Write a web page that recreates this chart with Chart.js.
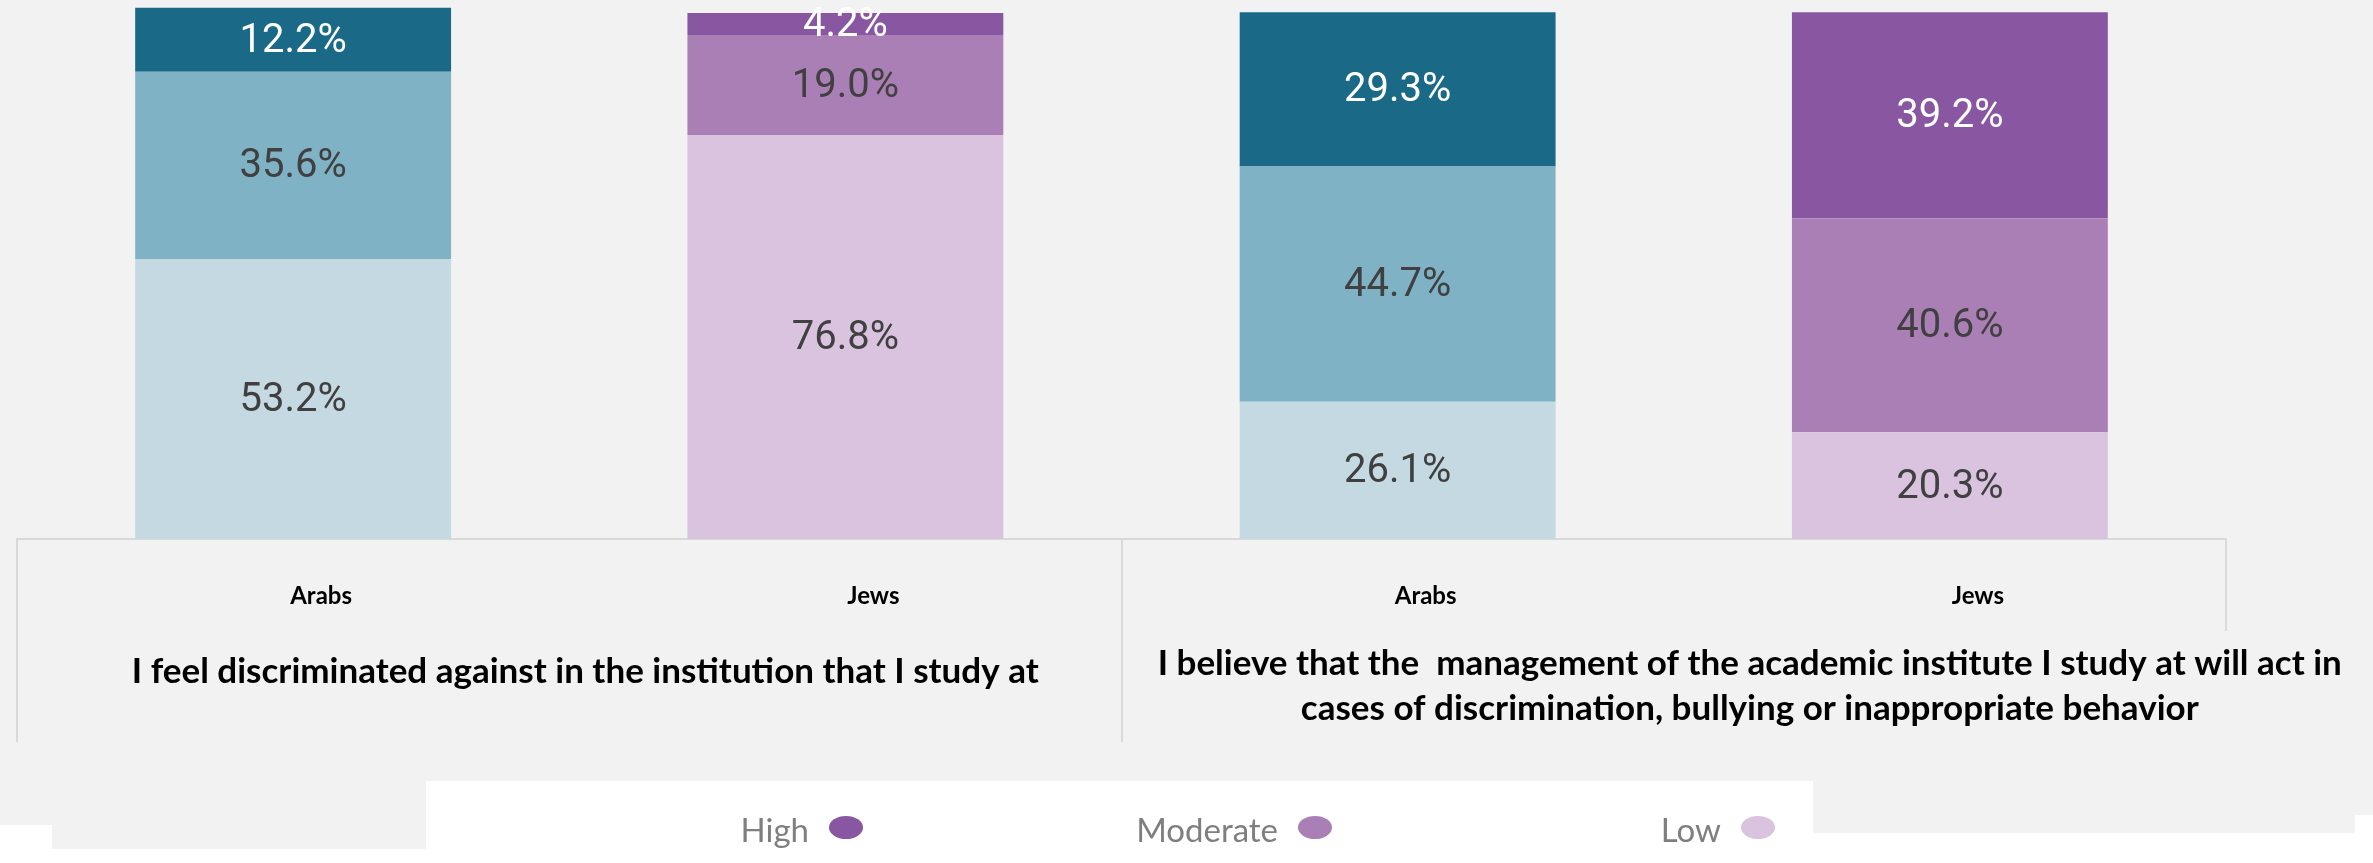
<!DOCTYPE html>
<html><head><meta charset="utf-8">
<script src="https://cdn.jsdelivr.net/npm/chart.js@4.4.1/dist/chart.umd.min.js"></script>
<style>html,body{margin:0;padding:0;background:#fff;overflow:hidden}#wrap{width:2373px;height:863px;position:relative}</style>
</head><body><div id="wrap"><canvas id="c"></canvas></div>
<script>
// ---- data ----
const categories = ['Arabs', 'Jews', 'Arabs', 'Jews'];
const seriesNames = ['Low', 'Moderate', 'High'];
const lowValues = [53.2, 76.8, 26.1, 20.3];
const moderateValues = [35.6, 19.0, 44.7, 40.6];
const highValues = [12.2, 4.2, 29.3, 39.2];
const groupLabels = [
  ['I feel discriminated against in the institution that I study at'],
  ['I believe that the  management of the academic institute I study at will act in',
   'cases of discrimination, bullying or inappropriate behavior']
];
const legendOrder = ['High', 'Moderate', 'Low'];

// ---- styles ----
const arabColors = { Low: '#c4d9e2', Moderate: '#7fb2c5', High: '#1a6987' };
const jewColors = { Low: '#d9c3df', Moderate: '#aa7fb6', High: '#8957a1' };
const labelColors = { Low: '#404040', Moderate: '#404040', High: '#ffffff' };
const BG = '#f2f2f2';
const LINE = '#d9d9d9';

const seriesValues = { Low: lowValues, Moderate: moderateValues, High: highValues };
const datasets = seriesNames.map(name => ({
  label: name,
  data: seriesValues[name],
  backgroundColor: categories.map(c => c === 'Arabs' ? arabColors[name] : jewColors[name]),
  borderWidth: 0,
  labelColor: labelColors[name],
  legendColor: jewColors[name],
  barPercentage: 0.572,
  categoryPercentage: 1.0
}));

const bgPlugin = {
  id: 'bgPlugin',
  beforeDraw(chart) {
    const ctx = chart.ctx;
    ctx.save();
    ctx.fillStyle = '#ffffff';
    ctx.fillRect(0, 0, chart.width, chart.height);
    ctx.fillStyle = BG;
    ctx.fillRect(0, 0, 2373, 815);
    ctx.fillRect(0, 815, 2355, 10);
    ctx.fillRect(52, 825, 2303, 8);
    ctx.fillRect(52, 833, 374, 16);
    ctx.fillStyle = '#ffffff';
    ctx.fillRect(426, 781, 1387, 82);
    ctx.restore();
  }
};

const segLabelPlugin = {
  id: 'segLabels',
  afterDatasetsDraw(chart) {
    const ctx = chart.ctx;
    ctx.save();
    ctx.font = '40px Roboto';
    ctx.textAlign = 'center';
    ctx.textBaseline = 'middle';
    chart.data.datasets.forEach((ds, i) => {
      const meta = chart.getDatasetMeta(i);
      meta.data.forEach((bar, j) => {
        const p = bar.getProps(['x', 'y', 'base'], true);
        ctx.fillStyle = ds.labelColor;
        ctx.fillText(ds.data[j].toFixed(1) + '%', p.x, (p.y + p.base) / 2 + 2);
      });
    });
    ctx.restore();
  }
};

const groupLabelPlugin = {
  id: 'groupLabels',
  afterDraw(chart, args, opts) {
    const sx = chart.scales.x;
    const ctx = chart.ctx;
    ctx.save();
    ctx.font = opts.font;
    ctx.textAlign = 'center';
    ctx.textBaseline = 'alphabetic';
    groupLabels.forEach((lines, g) => {
      const cx = (sx.getPixelForValue(2 * g) + sx.getPixelForValue(2 * g + 1)) / 2 + opts.shift[g];
      if (opts.mask[g]) {
        const w = Math.max(...lines.map(t => ctx.measureText(t).width));
        ctx.fillStyle = BG;
        ctx.fillRect(cx - w / 2 - 8, sx.top + opts.maskTop, w + 16, 210 - opts.maskTop);
      }
      ctx.fillStyle = '#000000';
      lines.forEach((t, li) => ctx.fillText(t, cx, sx.top + opts.baselines[g][li]));
    });
    ctx.restore();
  }
};

const dotLegendPlugin = {
  id: 'dotLegend',
  afterDraw(chart, args, opts) {
    const ctx = chart.ctx;
    ctx.save();
    ctx.font = opts.font;
    ctx.textAlign = 'right';
    ctx.textBaseline = 'alphabetic';
    legendOrder.forEach((name, k) => {
      const ds = chart.data.datasets.find(d => d.label === name);
      const x = opts.dotX[k];
      ctx.fillStyle = opts.color;
      ctx.fillText(ds.label, x - opts.rx - opts.gap, opts.textY);
      ctx.fillStyle = ds.legendColor;
      ctx.beginPath();
      ctx.ellipse(x, opts.dotY, opts.rx, opts.ry, 0, 0, Math.PI * 2);
      ctx.fill();
    });
    ctx.restore();
  }
};

new Chart(document.getElementById('c'), {
  type: 'bar',
  data: { labels: categories, datasets },
  plugins: [bgPlugin, segLabelPlugin, groupLabelPlugin, dotLegendPlugin],
  options: {
    responsive: true,
    maintainAspectRatio: false,
    animation: false,
    layout: { padding: { left: 17, right: 147, top: 0, bottom: 0 } },
    plugins: {
      legend: { display: false },
      tooltip: { enabled: false },
      groupLabels: {
        font: 'bold 35px Lato',
        shift: [16, 76],
        baselines: [[144], [136, 181]],
        mask: [false, true],
        maskTop: 92
      },
      dotLegend: {
        font: '33px Lato',
        color: '#7f7f7f',
        dotX: [846, 1315, 1758],
        dotY: 827.5,
        textY: 842,
        rx: 17, ry: 11.5, gap: 20
      }
    },
    scales: {
      x: {
        stacked: true,
        offset: true,
        grid: {
          display: true,
          offset: true,
          drawOnChartArea: false,
          drawTicks: true,
          tickLength: 203,
          tickWidth: 2,
          lineWidth: 2,
          color: 'rgba(0,0,0,0)',
          tickColor: c => (c.index === undefined || c.index % 2 === 0) ? LINE : 'rgba(0,0,0,0)'
        },
        border: { display: true, color: LINE, width: 2 },
        ticks: {
          font: { family: 'Lato', weight: 'bold', size: 24 },
          color: '#000000',
          labelOffset: 28,
          padding: -160,
          maxRotation: 0,
          autoSkip: false
        },
        afterFit: s => { s.height = 324; }
      },
      y: {
        stacked: true,
        display: false,
        min: 0,
        max: 102.45
      }
    }
  }
});
</script>
</body></html>
